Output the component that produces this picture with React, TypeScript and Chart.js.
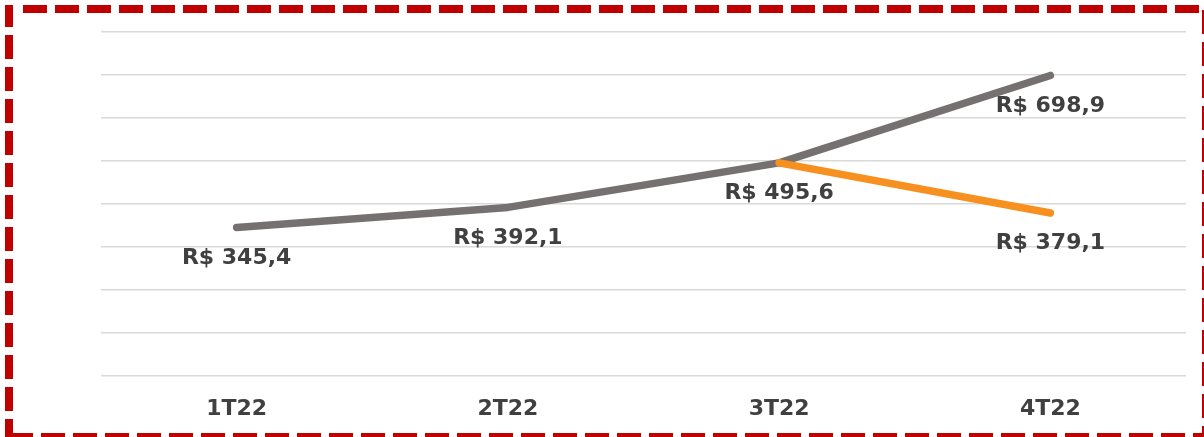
import React, { useEffect, useRef } from "react";
import { Chart, registerables } from "chart.js";

Chart.register(...registerables);

const categories = ["1T22", "2T22", "3T22", "4T22"];
const grayValues = [345.4, 392.1, 495.6, 698.9];
const orangeValues = [null, null, 495.6, 379.1];
const grayLabels = ["R$ 345,4", "R$ 392,1", "R$ 495,6", "R$ 698,9"];
const orangeLabels = [null, null, null, "R$ 379,1"];
const yMin = 0;
const yMax = 800;
const yStep = 100;

const W = 1204;
const H = 437;
const TEXT_COLOR = "#404040";
const FONT_FAMILY = "'DejaVu Sans', Verdana, sans-serif";

const labelPlugin = {
  id: "pointLabels",
  afterDatasetsDraw(chart: any) {
    const ctx = chart.ctx;
    ctx.save();
    ctx.fillStyle = TEXT_COLOR;
    ctx.font = `bold 22px ${FONT_FAMILY}`;
    ctx.textAlign = "center";
    ctx.textBaseline = "alphabetic";
    chart.data.datasets.forEach((ds: any, di: number) => {
      const labels: (string | null)[] = ds.pointLabelTexts || [];
      const meta = chart.getDatasetMeta(di);
      meta.data.forEach((pt: any, i: number) => {
        const txt = labels[i];
        if (!txt || ds.data[i] == null) return;
        ctx.fillText(txt, pt.x, pt.y + 36.5);
      });
    });
    ctx.restore();
  },
};

const borderPlugin = {
  id: "dashedFrame",
  afterDraw(chart: any) {
    const ctx = chart.ctx;
    ctx.save();
    ctx.fillStyle = "#C00000";
    const dash = 24;
    const period = 32;
    const t = 8;
    // top edge (y 5..13)
    ctx.fillRect(5, 5, 8, t);
    for (let x = 23; x < 1200; x += period) {
      ctx.fillRect(x, 5, Math.min(dash, 1199 - x), t);
    }
    // left edge (x 5..13)
    for (let y = 3 - period; y < H; y += period) {
      const y0 = Math.max(y, 5);
      const y1 = Math.min(y + dash, 441);
      if (y1 > y0) ctx.fillRect(5, y0, t, y1 - y0);
    }
    // bottom edge (y 433..441)
    for (let x = 9 - period; x < W; x += period) {
      const x0 = Math.max(x, 5);
      const x1 = x + dash;
      if (x1 > x0) ctx.fillRect(x0, 433, x1 - x0, t);
    }
    // right edge (x 1202..1210)
    for (let y = 10; y < H + 10; y += period) {
      ctx.fillRect(1202, y, t, dash);
    }
    ctx.restore();
  },
};

export default function App() {
  const canvasRef = useRef<HTMLCanvasElement | null>(null);

  useEffect(() => {
    document.body.style.margin = "0";
    const canvas = canvasRef.current;
    if (!canvas) return;
    const chart = new Chart(canvas, {
      type: "line",
      data: {
        labels: categories,
        datasets: [
          {
            label: "Orange",
            data: orangeValues,
            borderColor: "#F7901E",
            backgroundColor: "#F7901E",
            borderWidth: 7.5,
            borderCapStyle: "round",
            borderJoinStyle: "round",
            pointRadius: 0,
            pointHoverRadius: 0,
            tension: 0,
            spanGaps: false,
            pointLabelTexts: orangeLabels,
          } as any,
          {
            label: "Gray",
            data: grayValues,
            borderColor: "#767171",
            backgroundColor: "#767171",
            borderWidth: 7.5,
            borderCapStyle: "round",
            borderJoinStyle: "round",
            pointRadius: 0,
            pointHoverRadius: 0,
            tension: 0,
            pointLabelTexts: grayLabels,
          } as any,
        ],
      },
      options: {
        responsive: false,
        animation: false,
        devicePixelRatio: 1,
        layout: { padding: { left: 101, right: 18, top: 32, bottom: 0 } },
        plugins: {
          legend: { display: false },
          tooltip: { enabled: false },
          title: { display: false },
        },
        scales: {
          x: {
            type: "category",
            offset: true,
            grid: { display: false, drawTicks: false },
            border: { display: false },
            ticks: {
              color: TEXT_COLOR,
              font: { family: FONT_FAMILY, size: 22, weight: "bold" },
              padding: 20,
              maxRotation: 0,
            },
            afterFit: (scale: any) => {
              scale.height = 61;
            },
          },
          y: {
            min: yMin,
            max: yMax,
            ticks: { display: false, stepSize: yStep },
            grid: { color: "#D9D9D9", lineWidth: 1.5, drawTicks: false },
            border: { display: false },
            afterFit: (scale: any) => {
              scale.width = 0;
            },
          },
        },
      } as any,
      plugins: [labelPlugin, borderPlugin],
    });
    return () => chart.destroy();
  }, []);

  return (
    <div style={{ width: W, height: H, background: "#ffffff" }}>
      <canvas ref={canvasRef} width={W} height={H} style={{ display: "block" }} />
    </div>
  );
}
